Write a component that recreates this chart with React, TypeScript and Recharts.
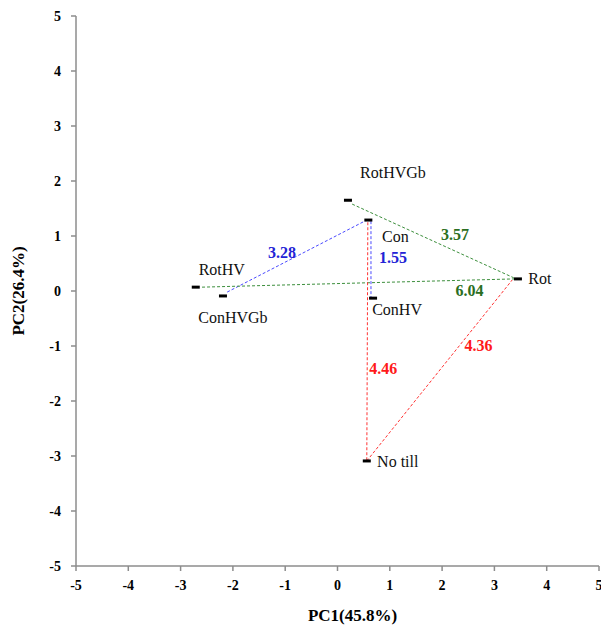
import React from 'react';
import { ScatterChart, Scatter, XAxis, YAxis } from 'recharts';

// PCA scores of the treatments
const pointNames = ['RotHVGb', 'Con', 'ConHV', 'Rot', 'No till', 'RotHV', 'ConHVGb'];
const pc1 = [0.2, 0.59, 0.68, 3.45, 0.56, -2.71, -2.19];
const pc2 = [1.65, 1.29, -0.13, 0.22, -3.09, 0.07, -0.09];

// distance segments between treatments
const segFromX = [-2.11, 0.64, 0.28, -2.59, 0.58, 0.56];
const segFromY = [-0.02, 1.27, 1.58, 0.07, 1.25, -3.09];
const segToX = [0.56, 0.64, 3.37, 3.39, 0.56, 3.34];
const segToY = [1.29, -0.13, 0.24, 0.22, -3.09, 0.2];
const segValues = [3.28, 1.55, 3.57, 6.04, 4.46, 4.36];
const segGroups = ['blue', 'blue', 'green', 'green', 'red', 'red'];

const axisTicks = [-5, -4, -3, -2, -1, 0, 1, 2, 3, 4, 5];

const lineColors: Record<string, string> = { blue: '#4a4aff', green: '#3d8f3d', red: '#ff3333' };
const textColors: Record<string, string> = { blue: '#2323d6', green: '#2b6e22', red: '#ff1a1a' };

// label placement in pixels, relative to the marker
const nameOffsets: Record<string, [number, number]> = {
  RotHVGb: [45, -28],
  Con: [27, 16],
  ConHV: [24, 11],
  Rot: [22, 0],
  'No till': [31, 1],
  RotHV: [26, -18],
  ConHVGb: [10, 22],
};
// distance label placement relative to the segment midpoint
const valueOffsets: [number, number][] = [[-15, -4], [22, -2], [22, -6], [111, 7], [16, 27], [39, -25]];

const serif = '"Liberation Serif", "Times New Roman", serif';
const axisGrey = '#8c8c8c';

const points = pointNames.map((name, i) => ({ name, x: pc1[i], y: pc2[i] }));
const segments = segValues.map((value, i) => ({
  group: segGroups[i],
  data: [
    { x: segFromX[i], y: segFromY[i] },
    { x: segToX[i], y: segToY[i] },
  ],
}));
const midLabels = segValues.map((value, i) => ({
  x: (segFromX[i] + segToX[i]) / 2,
  y: (segFromY[i] + segToY[i]) / 2,
  value,
  idx: i,
}));

const PointMark = (props: any) => {
  const { cx, cy, payload } = props;
  const [dx, dy] = nameOffsets[payload.name];
  return (
    <g>
      <rect x={cx - 4} y={cy - 1.5} width={8} height={3} fill="#000" />
      <text
        x={cx + dx}
        y={cy + dy}
        textAnchor="middle"
        dominantBaseline="central"
        fontFamily={serif}
        fontSize={16}
        fill="#111"
      >
        {payload.name}
      </text>
    </g>
  );
};

const ValueText = (props: any) => {
  const { cx, cy, payload } = props;
  const [dx, dy] = valueOffsets[payload.idx];
  return (
    <text
      x={cx + dx}
      y={cy + dy}
      textAnchor="middle"
      dominantBaseline="central"
      fontFamily={serif}
      fontWeight="bold"
      fontSize={16}
      fill={textColors[segGroups[payload.idx]]}
    >
      {payload.value.toFixed(2)}
    </text>
  );
};

const NoMark = () => <g />;

const tickStyle = { fontFamily: serif, fontWeight: 'bold' as const, fontSize: 14, fill: '#000' };

const XTitle = (props: any) => {
  const { viewBox } = props;
  return (
    <text
      x={viewBox.x + viewBox.width / 2 + 15}
      y={viewBox.y + 49}
      textAnchor="middle"
      dominantBaseline="central"
      fontFamily={serif}
      fontWeight="bold"
      fontSize={17}
      fill="#000"
    >
      PC1(45.8%)
    </text>
  );
};

const YTitle = (props: any) => {
  const { viewBox } = props;
  const cy = viewBox.y + viewBox.height / 2;
  return (
    <text
      x={18}
      y={cy}
      transform={`rotate(-90, 18, ${cy})`}
      textAnchor="middle"
      dominantBaseline="central"
      fontFamily={serif}
      fontWeight="bold"
      fontSize={17}
      fill="#000"
    >
      PC2(26.4%)
    </text>
  );
};

export default function App() {
  return (
    <div style={{ position: 'absolute', left: 0, top: 0, background: '#fff' }}>
      <ScatterChart width={601} height={625} margin={{ top: 16, right: 2, bottom: 0, left: 0 }}>
        <XAxis
          type="number"
          dataKey="x"
          domain={[-5, 5]}
          ticks={axisTicks}
          interval={0}
          height={59}
          stroke={axisGrey}
          strokeWidth={1.5}
          tickSize={5}
          tickMargin={9}
          tick={tickStyle}
          label={<XTitle />}
        />
        <YAxis
          type="number"
          dataKey="y"
          domain={[-5, 5]}
          ticks={axisTicks}
          interval={0}
          width={76}
          stroke={axisGrey}
          strokeWidth={1.5}
          tickSize={5}
          tickMargin={10}
          tick={tickStyle}
          label={<YTitle />}
        />
        {segments.map((s, i) => (
          <Scatter
            key={`seg-${i}`}
            data={s.data}
            line={{ stroke: lineColors[s.group], strokeWidth: 1, strokeDasharray: '3 2' }}
            lineType="joint"
            shape={<NoMark />}
            legendType="none"
            isAnimationActive={false}
          />
        ))}
        <Scatter data={points} shape={<PointMark />} isAnimationActive={false} />
        <Scatter data={midLabels} shape={<ValueText />} isAnimationActive={false} />
      </ScatterChart>
    </div>
  );
}
